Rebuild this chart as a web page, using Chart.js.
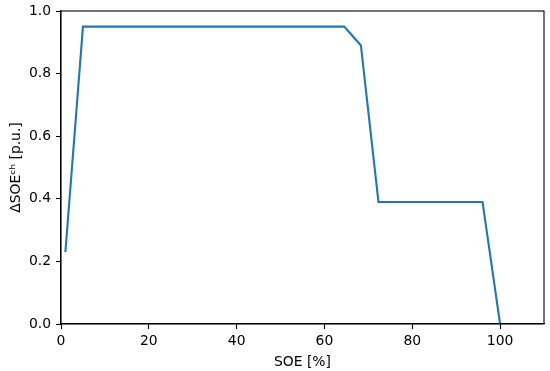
<!DOCTYPE html>
<html>
<head>
<meta charset="utf-8">
<style>
html,body{margin:0;padding:0;background:#fff;}
#wrap{width:550px;height:371px;}
</style>
<script src="https://cdn.jsdelivr.net/npm/chart.js@4/dist/chart.umd.min.js"></script>
</head>
<body>
<div id="wrap"><canvas id="c" width="550" height="371"></canvas></div>
<script>
const soe = [1, 5, 64.5, 68.3, 72.3, 96, 100];
const dSoe = [0.23, 0.95, 0.95, 0.89, 0.39, 0.39, 0.0];
const xTicks = [0, 20, 40, 60, 80, 100];
const yTicks = [0.0, 0.2, 0.4, 0.6, 0.8, 1.0];

const FONT = {family: 'DejaVu Sans', size: 13.9};

const frame = {
  id: 'frame',
  afterDatasetsDraw(chart) {
    const a = chart.chartArea, ctx = chart.ctx;
    ctx.save();
    ctx.strokeStyle = '#000';
    ctx.lineWidth = 1.1;
    ctx.strokeRect(a.left, a.top, a.right - a.left, a.bottom - a.top);
    ctx.restore();
  }
};

new Chart(document.getElementById('c'), {
  type: 'scatter',
  data: {
    datasets: [{
      data: soe.map((x, i) => ({x: x, y: dSoe[i]})),
      showLine: true,
      borderColor: '#1f77b4',
      backgroundColor: '#1f77b4',
      borderWidth: 2.1,
      pointRadius: 0,
      tension: 0
    }]
  },
  options: {
    responsive: false,
    animation: false,
    layout: {padding: {left: 0, top: 11, right: 6, bottom: 0}},
    plugins: {legend: {display: false}, tooltip: {enabled: false}},
    scales: {
      x: {
        type: 'linear', min: 0, max: 110,
        afterBuildTicks: s => { s.ticks = xTicks.map(v => ({value: v})); },
        afterFit: s => { s.height = 47; },
        ticks: {font: FONT, color: '#000', padding: 4, includeBounds: false},
        grid: {drawOnChartArea: false, tickLength: 5, tickColor: '#000', tickWidth: 1.1},
        border: {color: '#000', width: 1.1},
        title: {display: true, text: 'SOE [%]', font: FONT, color: '#000', padding: {top: 2, bottom: 0}}
      },
      y: {
        type: 'linear', min: 0, max: 1,
        afterBuildTicks: s => { s.ticks = yTicks.map(v => ({value: v})); },
        afterFit: s => { s.width = 61; s.paddingTop = 0; },
        ticks: {font: FONT, color: '#000', padding: 5, callback: v => v.toFixed(1)},
        grid: {drawOnChartArea: false, tickLength: 5, tickColor: '#000', tickWidth: 1.1},
        border: {color: '#000', width: 1.1},
        title: {display: true, text: 'ΔSOEᶜʰ [p.u.]', font: FONT, color: '#000', padding: {top: 8, bottom: 0}}
      }
    }
  },
  plugins: [frame]
});
</script>
</body>
</html>
